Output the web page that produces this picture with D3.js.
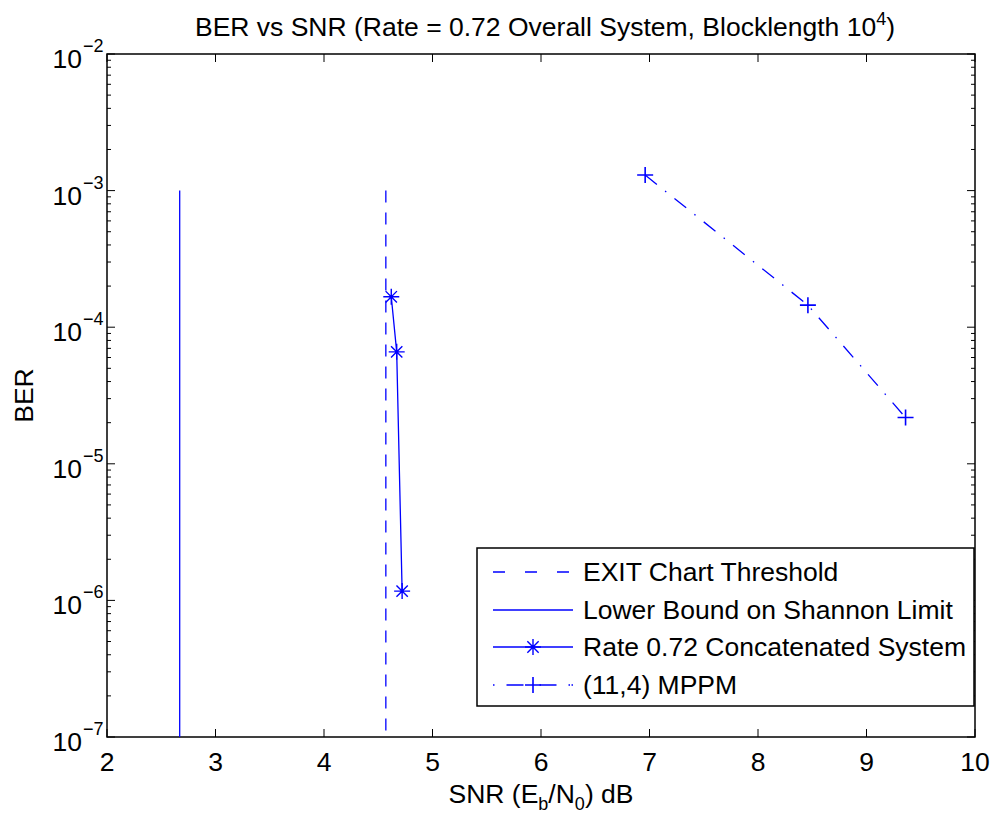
<!DOCTYPE html>
<html>
<head>
<meta charset="utf-8">
<script src="https://cdn.jsdelivr.net/npm/d3@7"></script>
<style>
  body { margin: 0; background: #fff; }
  svg { font-family: "Liberation Sans", Arial, sans-serif; }
</style>
</head>
<body>
<svg id="chart" width="996" height="820"></svg>
<script>
// Datos
const xTicks = [2, 3, 4, 5, 6, 7, 8, 9, 10];
const yDecades = [-2, -3, -4, -5, -6, -7];

const shannonSNR = [2.67, 2.67];
const shannonBER = [1e-3, 1e-7];

const exitSNR = [4.57, 4.57];
const exitBER = [1e-3, 1e-7];

const concatSNR = [4.62, 4.67, 4.72];
const concatBER = [1.67e-4, 6.6e-5, 1.17e-6];

const mppmSNR = [6.96, 8.46, 9.36];
const mppmBER = [1.3e-3, 1.45e-4, 2.18e-5];

const legendLabels = ["EXIT Chart Threshold", "Lower Bound on Shannon Limit",
  "Rate 0.72 Concatenated System", "(11,4) MPPM"];

const svg = d3.select("#chart");
const margin = { top: 54, right: 21, bottom: 83, left: 107 };
const width = 996, height = 820;
const blue = "#0000ff";
const fs = 26.5;

const x = d3.scaleLinear().domain([2, 10]).range([margin.left, width - margin.right]);
const y = d3.scaleLog().domain([1e-7, 1e-2]).range([height - margin.bottom, margin.top]);

const toPts = (xs, ys) => xs.map((v, i) => [v, ys[i]]);
const line = d3.line().x(d => x(d[0])).y(d => y(d[1]));

// caja de ejes
svg.append("rect")
  .attr("x", x(2)).attr("y", y(1e-2))
  .attr("width", x(10) - x(2)).attr("height", y(1e-7) - y(1e-2))
  .attr("fill", "none").attr("stroke", "#000").attr("stroke-width", 1.5);

// ticks x (abajo y arriba)
const axisG = svg.append("g").attr("stroke", "#000").attr("stroke-width", 1);
xTicks.forEach(t => {
  axisG.append("line").attr("x1", x(t)).attr("x2", x(t))
    .attr("y1", y(1e-7)).attr("y2", y(1e-7) - 8);
  axisG.append("line").attr("x1", x(t)).attr("x2", x(t))
    .attr("y1", y(1e-2)).attr("y2", y(1e-2) + 8);
});
svg.append("g").selectAll("text").data(xTicks).join("text")
  .attr("x", d => x(d)).attr("y", y(1e-7) + 34)
  .attr("text-anchor", "middle").attr("font-size", fs)
  .text(d => d);

// ticks y (log, mayores y menores)
const minor = [];
for (let e = -7; e < -2; e++) for (let m = 2; m <= 9; m++) minor.push(m * Math.pow(10, e));
minor.forEach(v => {
  axisG.append("line").attr("x1", x(2)).attr("x2", x(2) + 4).attr("y1", y(v)).attr("y2", y(v));
  axisG.append("line").attr("x1", x(10)).attr("x2", x(10) - 4).attr("y1", y(v)).attr("y2", y(v));
});
yDecades.forEach(e => {
  const v = Math.pow(10, e);
  axisG.append("line").attr("x1", x(2)).attr("x2", x(2) + 8).attr("y1", y(v)).attr("y2", y(v));
  axisG.append("line").attr("x1", x(10)).attr("x2", x(10) - 8).attr("y1", y(v)).attr("y2", y(v));
});
svg.append("g").selectAll("text").data(yDecades).join("text")
  .attr("x", 82).attr("y", d => y(Math.pow(10, d)) + 14)
  .attr("font-size", fs).attr("text-anchor", "end")
  .text("10");
svg.append("g").selectAll("text").data(yDecades).join("text")
  .attr("x", 83).attr("y", d => y(Math.pow(10, d)) - 2)
  .attr("font-size", 18)
  .text(d => "\u2212" + (-d));

// series
svg.append("path").datum(toPts(shannonSNR, shannonBER))
  .attr("d", line).attr("fill", "none").attr("stroke", blue).attr("stroke-width", 1.3);
svg.append("path").datum(toPts(exitSNR, exitBER))
  .attr("d", line).attr("fill", "none").attr("stroke", blue).attr("stroke-width", 1.3)
  .attr("stroke-dasharray", "12,10");
svg.append("path").datum(toPts(concatSNR, concatBER))
  .attr("d", line).attr("fill", "none").attr("stroke", blue).attr("stroke-width", 1.3);
svg.append("path").datum(toPts(mppmSNR, mppmBER))
  .attr("d", line).attr("fill", "none").attr("stroke", blue).attr("stroke-width", 1.3)
  .attr("stroke-dasharray", "15,10.5,1.5,10.5");

function asterisk(g, cx, cy, r) {
  const d = r * Math.SQRT1_2;
  g.append("path")
    .attr("d", `M${cx - r},${cy}L${cx + r},${cy}M${cx},${cy - r}L${cx},${cy + r}` +
      `M${cx - d},${cy - d}L${cx + d},${cy + d}M${cx - d},${cy + d}L${cx + d},${cy - d}`)
    .attr("stroke", blue).attr("stroke-width", 1.4).attr("fill", "none");
}
function plus(g, cx, cy, r) {
  g.append("path")
    .attr("d", `M${cx - r},${cy}L${cx + r},${cy}M${cx},${cy - r}L${cx},${cy + r}`)
    .attr("stroke", blue).attr("stroke-width", 1.6).attr("fill", "none");
}
const mk = svg.append("g");
toPts(concatSNR, concatBER).forEach(p => asterisk(mk, x(p[0]), y(p[1]), 8));
toPts(mppmSNR, mppmBER).forEach(p => plus(mk, x(p[0]), y(p[1]), 8));

// leyenda
const lg = svg.append("g");
lg.append("rect").attr("x", 477).attr("y", 548).attr("width", 497).attr("height", 158)
  .attr("fill", "#fff").attr("stroke", "#000").attr("stroke-width", 1.5);
const rowY = [572, 610, 647, 685];
const dashes = ["12,20", null, null, "1.5,12,17,16,17,12,1.5"];
rowY.forEach((ry, i) => {
  const l = lg.append("line").attr("x1", 493).attr("x2", 573).attr("y1", ry).attr("y2", ry)
    .attr("stroke", blue).attr("stroke-width", 1.3);
  if (dashes[i]) l.attr("stroke-dasharray", dashes[i]);
  if (i === 2) asterisk(lg, 533, ry, 8);
  if (i === 3) plus(lg, 533, ry, 8);
  lg.append("text").attr("x", 583).attr("y", ry + 9).attr("font-size", fs).text(legendLabels[i]);
});

// titulo y etiquetas
const title = svg.append("text").attr("x", 545).attr("y", 36)
  .attr("text-anchor", "middle").attr("font-size", fs);
title.append("tspan").text("BER vs SNR (Rate = 0.72 Overall System, Blocklength 10");
title.append("tspan").attr("font-size", 18).attr("dy", -11).text("4");
title.append("tspan").attr("dy", 11).text(")");

const xl = svg.append("text").attr("x", x(6)).attr("y", 803)
  .attr("text-anchor", "middle").attr("font-size", fs);
xl.append("tspan").text("SNR (E");
xl.append("tspan").attr("font-size", 18).attr("dy", 7).text("b");
xl.append("tspan").attr("dy", -7).text("/N");
xl.append("tspan").attr("font-size", 18).attr("dy", 7).text("0");
xl.append("tspan").attr("dy", -7).text(") dB");

svg.append("text").attr("transform", `translate(33,${(y(1e-2) + y(1e-7)) / 2}) rotate(-90)`)
  .attr("text-anchor", "middle").attr("font-size", fs).text("BER");
</script>
</body>
</html>
